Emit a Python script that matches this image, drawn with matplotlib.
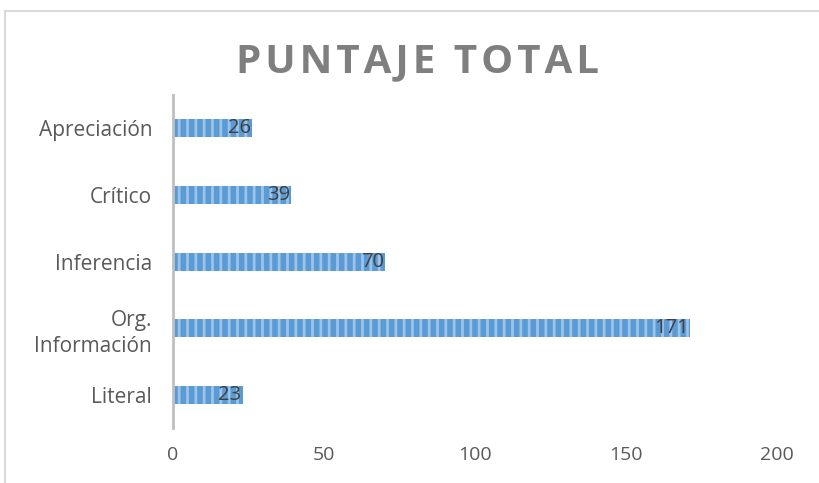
import matplotlib.pyplot as plt
from matplotlib.lines import Line2D

categorias = ['Literal', 'Org.\nInformación', 'Inferencia', 'Crítico', 'Apreciación']
puntajes = [23, 171, 70, 39, 26]
ticks_x = [0, 50, 100, 150, 200]

plt.rcParams['font.family'] = ['Open Sans', 'DejaVu Sans']
plt.rcParams['hatch.linewidth'] = 2.0

fig = plt.figure(figsize=(8.2, 4.83), dpi=100)
ax = fig.add_axes([0.211, 0.114, 0.737, 0.689])

pos = range(len(categorias))
barras = ax.barh(pos, puntajes, height=0.27, color='#5b9bd5',
                 edgecolor='#9cc3e8', linewidth=0, hatch='||')
for p, v in zip(pos, puntajes):
    ax.text(v - 0.3, p, str(v), ha='right', va='center',
            fontsize=14.5, color='#404040')

ax.set_xlim(0, 200)
ax.set_ylim(-0.5, len(categorias) - 0.5)
ax.set_xticks(ticks_x)
ax.set_yticks(list(pos))
ax.set_yticklabels(categorias, linespacing=1.35)
ax.tick_params(length=0, labelcolor='#595959')
ax.tick_params(axis='x', pad=13, labelsize=14)
ax.tick_params(axis='y', pad=15, labelsize=15)
for s in ['top', 'right', 'bottom']:
    ax.spines[s].set_visible(False)
ax.spines['left'].set_color('#bfbfbf')
ax.spines['left'].set_linewidth(2)

titulo = '\u200a'.join('PUNTAJE TOTAL')
fig.text(0.509, 0.872, titulo, ha='center', va='center',
         fontsize=29, fontweight='bold', color='#7f7f7f')

# marco del gráfico
fig.add_artist(Line2D([0.006, 1.0], [0.977, 0.977], color='#d9d9d9', lw=1.5,
                      transform=fig.transFigure))
fig.add_artist(Line2D([0.006, 0.006], [0.0, 0.977], color='#d9d9d9', lw=1.5,
                      transform=fig.transFigure))

fig.savefig('out.png', dpi=100)
